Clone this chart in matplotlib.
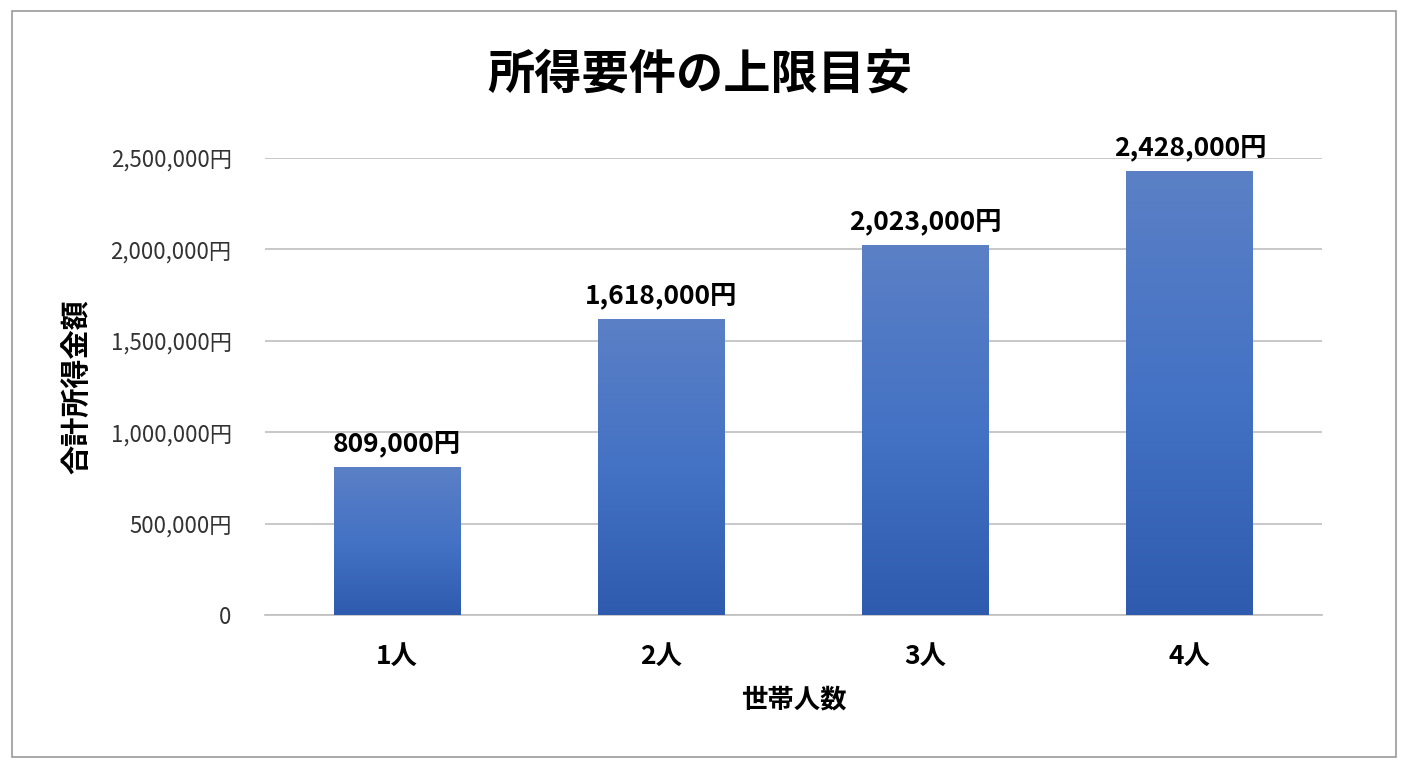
import numpy as np
import matplotlib.pyplot as plt
from matplotlib.patches import Rectangle
from matplotlib.colors import LinearSegmentedColormap

plt.rcParams['font.family'] = ['Noto Sans CJK JP', 'DejaVu Sans']

categories = ["1人", "2人", "3人", "4人"]
values = [809000, 1618000, 2023000, 2428000]
yticks = [0, 500000, 1000000, 1500000, 2000000, 2500000]

fig = plt.figure(figsize=(14.08, 7.68), dpi=100, facecolor="white")
fig.patches.append(Rectangle((12 / 1408, 11 / 768), 1384 / 1408, 746 / 768,
                             transform=fig.transFigure, fill=False,
                             edgecolor="#999999", linewidth=1.2))
ax = fig.add_axes([265 / 1408, 1 - 615 / 768, 1057 / 1408, 457 / 768])

x = np.arange(len(categories))
bars = ax.bar(x, values, width=0.48, color="none", zorder=3)
cmap = LinearSegmentedColormap.from_list("g", ["#2E5BAE", "#4472C4", "#5B80C6"])
grad = np.linspace(0, 1, 256).reshape(-1, 1)
for b in bars:
    im = ax.imshow(grad, cmap=cmap, aspect="auto", origin="lower",
                   extent=[b.get_x(), b.get_x() + b.get_width(), 0, b.get_height()],
                   zorder=3)
    im.set_clip_path(b)

for xi, v in zip(x, values):
    ax.text(xi, v + 55000, f"{v:,}円", ha="center", va="bottom",
            fontsize=19, fontweight="bold", clip_on=False)

ax.set_xlim(-0.5, 3.5)
ax.set_ylim(0, 2500000)
ax.set_yticks(yticks)
ax.set_yticklabels(["0"] + [f"{t:,}円" for t in yticks[1:]], fontsize=16, color="#333333")
ax.set_xticks(x)
ax.set_xticklabels(categories, fontsize=19, fontweight="bold")
ax.tick_params(length=0, pad=24)
ax.tick_params(axis="x", pad=20)
ax.grid(axis="y", color="#BFBFBF", linewidth=1.2, zorder=0)
for s in ["top", "right", "left"]:
    ax.spines[s].set_visible(False)
ax.spines["bottom"].set_color("#BFBFBF")
ax.spines["bottom"].set_linewidth(1.2)

ax.set_xlabel("世帯人数", fontsize=19, fontweight="bold", labelpad=12)
ax.set_ylabel("合計所得金額", fontsize=21, fontweight="bold", labelpad=14)
fig.text(0.497, 1 - 75 / 768, "所得要件の上限目安", ha="center", va="center",
         fontsize=34, fontweight="bold")

fig.savefig("out.png", dpi=100)
